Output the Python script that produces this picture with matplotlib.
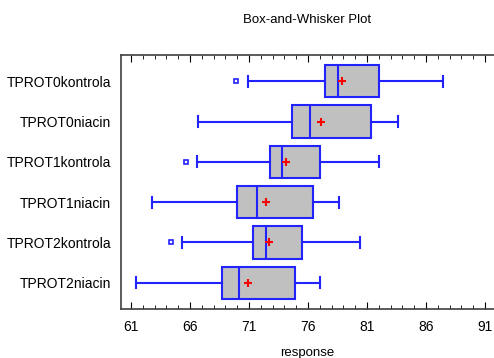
import matplotlib
matplotlib.use("Agg")
import matplotlib.pyplot as plt
from matplotlib.ticker import MultipleLocator, FixedLocator

plt.rcParams['font.family'] = ['Liberation Sans Narrow', 'Liberation Sans', 'DejaVu Sans']

# groups, top to bottom
groups = ["TPROT0kontrola", "TPROT0niacin", "TPROT1kontrola",
          "TPROT1niacin", "TPROT2kontrola", "TPROT2niacin"]
whislo = [70.9, 66.7, 66.6, 62.8, 65.3, 61.45]
q1 = [77.4, 74.6, 72.8, 70.0, 71.3, 68.7]
med = [78.5, 76.2, 73.8, 71.7, 72.4, 70.15]
mean = [78.85, 77.1, 74.1, 72.4, 72.7, 70.9]
q3 = [82.0, 81.3, 77.0, 76.45, 75.5, 74.9]
whishi = [87.4, 83.6, 82.0, 78.6, 80.4, 77.0]
outliers = [[69.9], [], [65.7], [], [64.4], []]

blue = "#2222ff"

stats = []
for i in range(len(groups)):
    stats.append(dict(label=groups[i], whislo=whislo[i], q1=q1[i], med=med[i],
                      mean=mean[i], q3=q3[i], whishi=whishi[i], fliers=outliers[i]))

fig = plt.figure(figsize=(4.94, 3.58), dpi=100)
ax = fig.add_axes([121 / 494, 49 / 358, 1 - 121 / 494, 254 / 358])

pos = list(range(len(groups), 0, -1))
ax.bxp(stats, positions=pos, vert=False, widths=0.8, patch_artist=True,
       showmeans=True, capwidths=0.27,
       boxprops=dict(facecolor="#c0c0c0", edgecolor=blue, linewidth=1.5),
       medianprops=dict(color=blue, linewidth=1.5),
       whiskerprops=dict(color=blue, linewidth=1.5),
       capprops=dict(color=blue, linewidth=1.5),
       meanprops=dict(marker="+", markeredgecolor="red", markersize=5.5, markeredgewidth=1.5),
       flierprops=dict(marker="s", markerfacecolor="white", markeredgecolor=blue,
                       markersize=3.5, markeredgewidth=1.2))

ax.set_xlim(60.15, 91.76)
ax.set_ylim(0.35, 6.65)
ax.xaxis.set_major_locator(FixedLocator([61, 66, 71, 76, 81, 86, 91]))
ax.xaxis.set_minor_locator(MultipleLocator(1))
ax.tick_params(axis="x", which="both", direction="in", top=True, bottom=True,
               labelsize=10, pad=8, color="black")
ax.tick_params(axis="x", which="major", length=5)
ax.tick_params(axis="x", which="minor", length=3)
ax.tick_params(axis="y", length=0, labelsize=10, pad=7)
ax.set_yticks(pos)
ax.set_yticklabels(groups)
ax.spines["right"].set_visible(False)
for s in ["left", "top", "bottom"]:
    ax.spines[s].set_color("#404040")
    ax.spines[s].set_linewidth(1.2)

ax.set_xlabel("response", fontsize=9.5, labelpad=9)
fig.text((121 + 494) / 2 / 494, 1 - 20 / 358, "Box-and-Whisker Plot",
         ha="center", va="center", fontsize=9.5)

fig.savefig("out.png", dpi=100)
